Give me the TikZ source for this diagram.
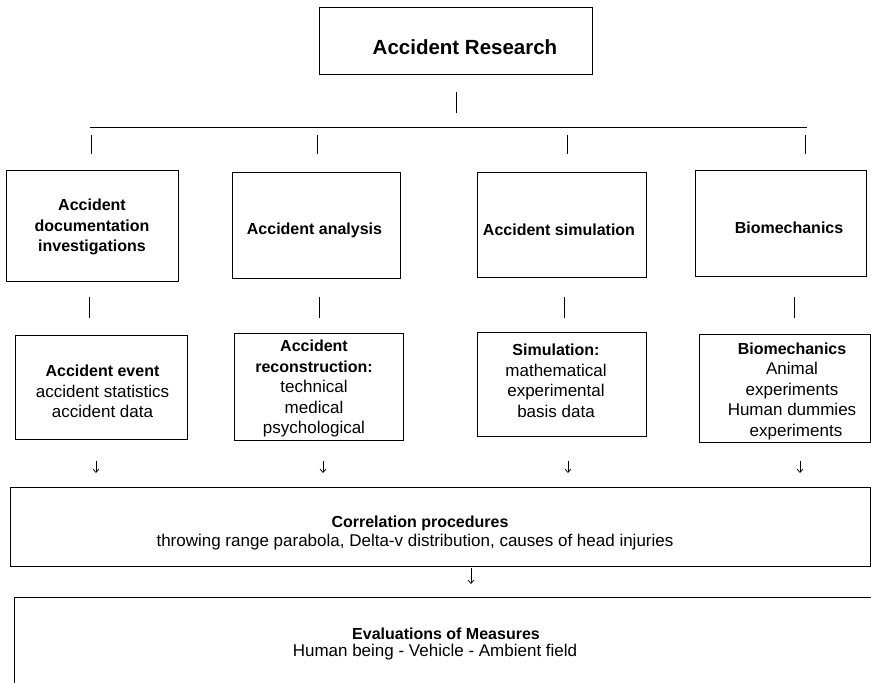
\documentclass[tikz,border=0pt]{standalone}
\usepackage{fontspec}
\setmainfont{Liberation Sans}
\usetikzlibrary{arrows.meta,calc}
\newcommand{\mybold}[1]{{\fontsize{16}{20.5}\selectfont\bfseries #1}}
\tikzset{
  box/.style={draw, line width=0.9pt, inner sep=0pt},
  hdr/.style={font=\fontsize{16}{20.5}\selectfont\bfseries, align=center, inner sep=0pt},
  txt/.style={font=\fontsize{17}{20.5}\selectfont, align=center, inner sep=0pt},
  tick/.style={line width=0.8pt},
  arr/.style={line width=0.7pt, -{Straight Barb[length=3.5pt,width=6pt]}},
}
\begin{document}
\begin{tikzpicture}[x=1pt,y=-1pt]
\useasboundingbox (0,0) rectangle (871,683);
\fill[white] (0,0) rectangle (871,683);
\clip (0,0) rectangle (871,683);

% top box
\node[box, minimum width=273pt, minimum height=67pt] (top) at (455.5,40.5) {};
\node[font=\fontsize{20.5}{24}\selectfont\bfseries, inner sep=0pt] (topt) at (465,47) {Accident Research};

% row 2 boxes
\node[box, minimum width=172pt, minimum height=111pt] (b1) at (92,225.5) {};
\node[box, minimum width=168pt, minimum height=106pt] (b2) at (316,225) {};
\node[box, minimum width=169pt, minimum height=105pt] (b3) at (561.5,224.5) {};
\node[box, minimum width=171pt, minimum height=106pt] (b4) at (780.5,223) {};
\node[hdr] (b1t) at (92,227) {Accident\\documentation\\investigations};
\node[hdr] (b2t) at (314.5,230) {Accident analysis};
\node[hdr] (b3t) at (559,230) {Accident simulation};
\node[hdr] (b4t) at (789,228) {Biomechanics};

% row 3 boxes
\node[box, minimum width=172pt, minimum height=104pt] (c1) at (101,387) {};
\node[box, minimum width=169pt, minimum height=107pt] (c2) at (318.5,386.5) {};
\node[box, minimum width=169pt, minimum height=104pt] (c3) at (561.5,384) {};
\node[box, minimum width=171.5pt, minimum height=108pt] (c4) at (784.75,388) {};
\node[txt] (c1t) at (102.5,391.5) {\mybold{Accident event}\\accident statistics\\accident data};
\node[txt] (c2t) at (314,388.5) {\mybold{Accident}\\\mybold{reconstruction:}\\technical\\medical\\psychological};
\node[txt] (c3t) at (556,381) {\mybold{Simulation:}\\mathematical\\experimental\\basis data};
\node[txt] (c4t) at (792,391) {\mybold{Biomechanics}\\Animal\hspace{10pt}\\experiments\\Human dummies\\\hspace{8pt}experiments};

% correlation box
\node[box, minimum width=860pt, minimum height=79pt] (co) at (440,526.5) {};
\node[hdr] (co1) at (420,523) {Correlation procedures};
\node[txt] (co2) at (415,542) {throwing range parabola, Delta-v distribution, causes of head injuries};

% evaluation box (open at bottom and right)
\node[minimum width=856pt, minimum height=102pt, inner sep=0pt] (ev) at (443,649) {};
\draw[line width=0.9pt] (ev.south west) |- (ev.north east);
\node[hdr] (ev1) at (446,634) {Evaluations of Measures};
\node[txt] (ev2) at (435,652) {Human being - Vehicle - Ambient field};

% ticks and bus line
\coordinate (t0a) at (456,92);  \coordinate (t0b) at (456,113);
\draw[tick] (t0a) -- (t0b);
\coordinate (busl) at (90,127); \coordinate (busr) at (807,127);
\draw[tick] (busl) -- (busr);
\foreach \n/\x in {1/91,2/317,3/567,4/805}{
  \coordinate (ua\n) at (\x,135); \coordinate (ub\n) at (\x,154);
  \draw[tick] (ua\n) -- (ub\n);
}
\foreach \n/\x in {1/89,2/319,3/564,4/794}{
  \coordinate (va\n) at (\x,297); \coordinate (vb\n) at (\x,318);
  \draw[tick] (va\n) -- (vb\n);
}

% arrows
\foreach \n/\x in {1/96,2/323,3/568,4/800}{
  \coordinate (wa\n) at (\x,461); \coordinate (wb\n) at (\x,473);
  \draw[arr] (wa\n) -- (wb\n);
}
\coordinate (xa) at (471,568); \coordinate (xb) at (471,584);
\draw[arr] (xa) -- (xb);
\end{tikzpicture}
\end{document}
